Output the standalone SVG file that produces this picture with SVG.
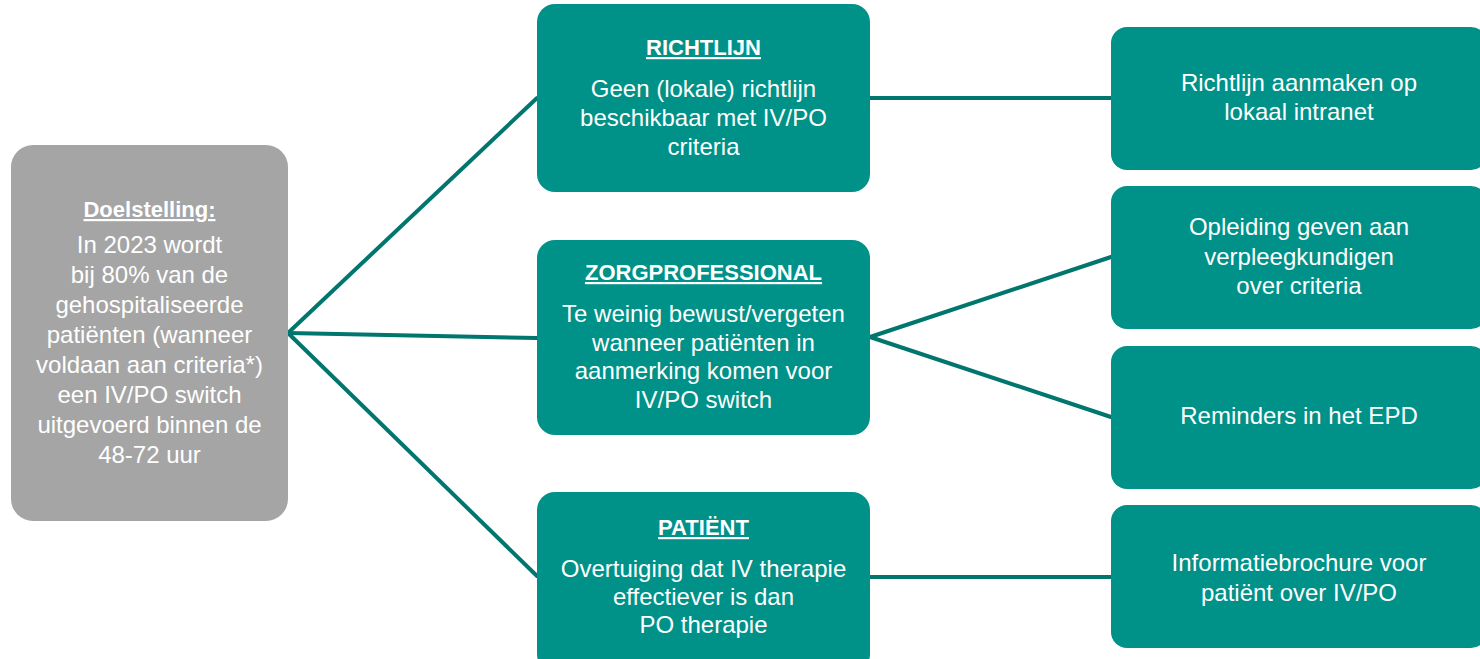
<svg xmlns="http://www.w3.org/2000/svg" width="1480" height="659" viewBox="0 0 1480 659">
<style>
.box{fill:#009189;}
.goal{fill:#a5a5a5;}
.t{font-family:"Liberation Sans",Arial,sans-serif;font-size:24px;fill:#ffffff;text-anchor:middle;}
.h{font-weight:bold;text-decoration:underline;font-size:22px;}
.c{stroke:#00766f;stroke-width:4;fill:none;stroke-linecap:round;}
</style>
<rect width="1480" height="659" fill="#ffffff"/>
<g id="connectors">
<line class="c" x1="288" y1="333" x2="537" y2="98"/>
<line class="c" x1="288" y1="333" x2="537" y2="338"/>
<line class="c" x1="288" y1="333" x2="537" y2="576"/>
<line class="c" x1="870" y1="98" x2="1111" y2="98"/>
<line class="c" x1="870" y1="337" x2="1111" y2="257"/>
<line class="c" x1="870" y1="337" x2="1111" y2="417"/>
<line class="c" x1="870" y1="577" x2="1111" y2="577"/>
</g>
<g id="doelstelling">
<rect class="goal" x="11" y="145" width="277" height="376" rx="22"/>
<text class="t h" x="149.5" y="217" font-size="24">Doelstelling:</text>
<text class="t" x="149.5" y="253">In 2023 wordt</text>
<text class="t" x="149.5" y="283">bij 80% van de</text>
<text class="t" x="149.5" y="313">gehospitaliseerde</text>
<text class="t" x="149.5" y="343">patiënten (wanneer</text>
<text class="t" x="149.5" y="373">voldaan aan criteria*)</text>
<text class="t" x="149.5" y="403">een IV/PO switch</text>
<text class="t" x="149.5" y="433">uitgevoerd binnen de</text>
<text class="t" x="149.5" y="463">48-72 uur</text>
</g>
<g id="richtlijn">
<rect class="box" x="537" y="4" width="333" height="188" rx="18"/>
<text class="t h" x="703.5" y="55">RICHTLIJN</text>
<text class="t" x="703.5" y="97">Geen (lokale) richtlijn</text>
<text class="t" x="703.5" y="126">beschikbaar met IV/PO</text>
<text class="t" x="703.5" y="155">criteria</text>
</g>
<g id="zorgprofessional">
<rect class="box" x="537" y="240" width="333" height="195" rx="18"/>
<text class="t h" x="703.5" y="280">ZORGPROFESSIONAL</text>
<text class="t" x="703.5" y="322">Te weinig bewust/vergeten</text>
<text class="t" x="703.5" y="351">wanneer patiënten in</text>
<text class="t" x="703.5" y="379">aanmerking komen voor</text>
<text class="t" x="703.5" y="408">IV/PO switch</text>
</g>
<g id="patient">
<rect class="box" x="537" y="492" width="333" height="180" rx="18"/>
<text class="t h" x="703.5" y="535">PATIËNT</text>
<text class="t" x="703.5" y="577">Overtuiging dat IV therapie</text>
<text class="t" x="703.5" y="605">effectiever is dan</text>
<text class="t" x="703.5" y="633">PO therapie</text>
</g>
<g id="richtlijn-aanmaken">
<rect class="box" x="1111" y="27" width="376" height="143" rx="16"/>
<text class="t" x="1299" y="91">Richtlijn aanmaken op</text>
<text class="t" x="1299" y="120">lokaal intranet</text>
</g>
<g id="opleiding">
<rect class="box" x="1111" y="186" width="376" height="143" rx="16"/>
<text class="t" x="1299" y="235">Opleiding geven aan</text>
<text class="t" x="1299" y="265">verpleegkundigen</text>
<text class="t" x="1299" y="294">over criteria</text>
</g>
<g id="reminders">
<rect class="box" x="1111" y="346" width="376" height="143" rx="16"/>
<text class="t" x="1299" y="424">Reminders in het EPD</text>
</g>
<g id="informatiebrochure">
<rect class="box" x="1111" y="505" width="376" height="143" rx="16"/>
<text class="t" x="1299" y="571">Informatiebrochure voor</text>
<text class="t" x="1299" y="601">patiënt over IV/PO</text>
</g>
</svg>
